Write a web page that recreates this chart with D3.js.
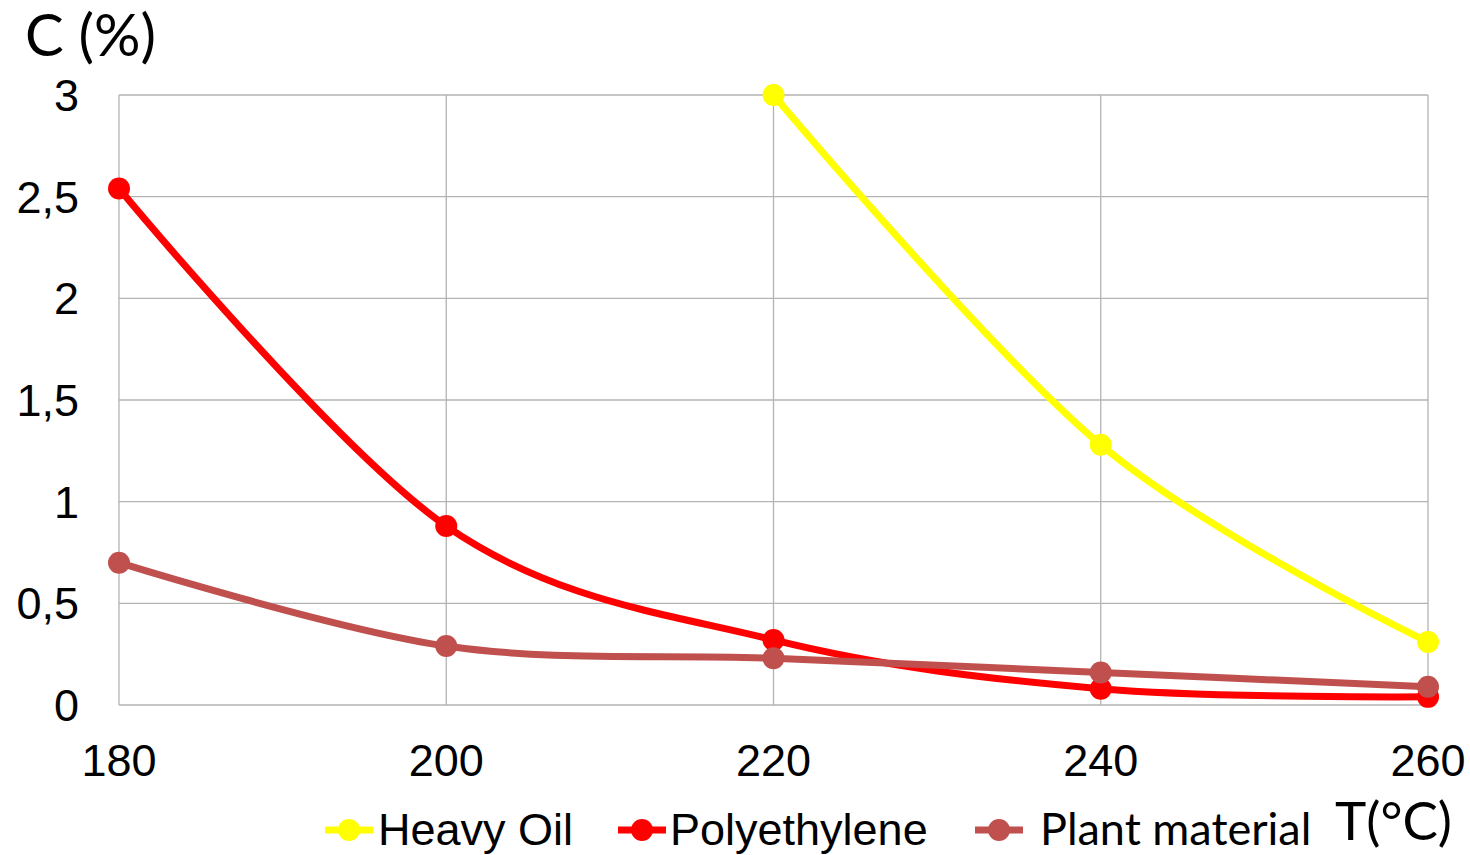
<!DOCTYPE html>
<html><head><meta charset="utf-8">
<script src="https://cdn.jsdelivr.net/npm/d3@7"></script>
<style>body{margin:0;background:#fff;}svg{display:block;}</style>
</head><body>
<svg id="chart" width="1470" height="855"></svg>
<script>
const temperatures = [180, 200, 220, 240, 260];
const heavyOil = [null, null, 3.0, 1.28, 0.31];
const polyethylene = [2.54, 0.88, 0.32, 0.08, 0.04];
const plantMaterial = [0.70, 0.29, 0.23, 0.16, 0.09];
const seriesNames = ["Heavy Oil", "Polyethylene", "Plant material"];
const seriesColors = ["#FFFF00", "#FF0000", "#C0504D"];
const yTicks = [0, 0.5, 1, 1.5, 2, 2.5, 3];
const yTickLabels = ["0", "0,5", "1", "1,5", "2", "2,5", "3"];

const svg = d3.select("#chart");
const x = d3.scaleLinear().domain([180, 260]).range([119, 1428]);
const y = d3.scaleLinear().domain([0, 3]).range([705, 95]);

// gridlines
svg.append("g").selectAll("line").data(yTicks).join("line")
  .attr("x1", x(180)).attr("x2", x(260)).attr("y1", d => y(d)).attr("y2", d => y(d))
  .attr("stroke", "#b3b3b3").attr("stroke-width", 1.3);
svg.append("g").selectAll("line").data(temperatures).join("line")
  .attr("x1", d => x(d)).attr("x2", d => x(d)).attr("y1", y(0)).attr("y2", y(3))
  .attr("stroke", "#b3b3b3").attr("stroke-width", 1.3);

// y labels
svg.append("g").selectAll("text").data(yTicks).join("text")
  .attr("x", 79).attr("y", d => y(d) + 16).attr("text-anchor", "end")
  .attr("font-family", "Liberation Sans, Arial, sans-serif").attr("font-size", 45)
  .text((d, i) => yTickLabels[i]);
// x labels
svg.append("g").selectAll("text").data(temperatures).join("text")
  .attr("x", d => x(d)).attr("y", 776).attr("text-anchor", "middle")
  .attr("font-family", "Liberation Sans, Arial, sans-serif").attr("font-size", 45)
  .text(d => d);

// axis titles
svg.append("text").attr("x", 25).attr("y", 56)
  .attr("font-family", "Lato, 'Open Sans', sans-serif").attr("font-size", 58).text("C (%)");
svg.append("text").attr("x", 1335).attr("y", 840)
  .attr("font-family", "Lato, 'Open Sans', sans-serif").attr("font-size", 53).text("T(°C)");

const allSeries = [heavyOil, polyethylene, plantMaterial];
const line = d3.line()
  .defined(d => d.v != null)
  .x(d => x(d.t)).y(d => y(d.v))
  .curve(d3.curveCatmullRom.alpha(0));

allSeries.forEach((vals, i) => {
  const pts = temperatures.map((t, j) => ({t, v: vals[j]}));
  const g = svg.append("g");
  g.append("path").datum(pts).attr("d", line)
    .attr("fill", "none").attr("stroke", seriesColors[i]).attr("stroke-width", 7)
    .attr("stroke-linejoin", "round");
  g.selectAll("circle").data(pts.filter(d => d.v != null)).join("circle")
    .attr("cx", d => x(d.t)).attr("cy", d => y(d.v)).attr("r", 11)
    .attr("fill", seriesColors[i]);
});

// legend
const legendItems = [
  {x: 325, tx: 378, font: "Liberation Sans, Arial, sans-serif", size: 45},
  {x: 618, tx: 670, font: "Liberation Sans, Arial, sans-serif", size: 45},
  {x: 975, tx: 1040, font: "Lato, 'Open Sans', sans-serif", size: 45}
];
legendItems.forEach((li, i) => {
  const g = svg.append("g");
  g.append("line").attr("x1", li.x).attr("x2", li.x + 48).attr("y1", 830).attr("y2", 830)
    .attr("stroke", seriesColors[i]).attr("stroke-width", 7);
  g.append("circle").attr("cx", li.x + 24).attr("cy", 830).attr("r", 11).attr("fill", seriesColors[i]);
  g.append("text").attr("x", li.tx).attr("y", 845)
    .attr("font-family", li.font).attr("font-size", li.size).text(seriesNames[i]);
});
</script>
</body></html>
